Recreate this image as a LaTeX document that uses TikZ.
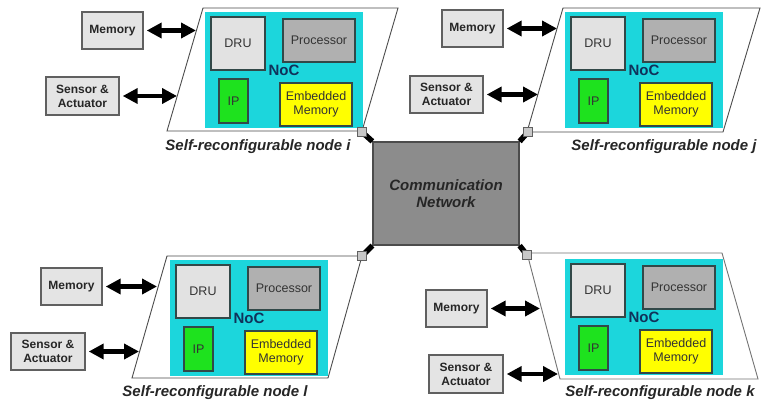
\documentclass[tikz,border=0pt]{standalone}
\usepackage{fontspec}
\setmainfont{Liberation Sans}
\usetikzlibrary{arrows.meta}
\definecolor{cyanbg}{RGB}{28,214,220}
\definecolor{drufill}{RGB}{226,226,226}
\definecolor{procfill}{RGB}{176,176,176}
\definecolor{ipfill}{RGB}{30,226,30}
\definecolor{embfill}{RGB}{255,255,0}
\definecolor{boxline}{RGB}{50,72,72}
\definecolor{extfill}{RGB}{228,228,228}
\definecolor{extline}{RGB}{96,96,96}
\definecolor{noccol}{RGB}{16,50,90}
\definecolor{netfill}{RGB}{140,140,140}
\definecolor{sqfill}{RGB}{200,200,200}
\begin{document}
\begin{tikzpicture}[x=1pt,y=-1pt,
 inbox/.style={draw=boxline, line width=1.2pt, inner sep=0pt, align=center,
   font=\fontsize{12.5}{14}\selectfont, text=black!80},
 ext/.style={draw=extline, fill=extfill, line width=1.4pt, inner sep=0pt, align=center,
   font=\fontsize{12}{14}\selectfont\bfseries, text=black!85},
 para/.style={draw=black!70, line width=0.9pt, fill=white},
 caption/.style={font=\fontsize{15}{17}\selectfont\bfseries\itshape, text=black!85},
 biarrow/.style={line width=4.5pt, {Triangle[length=15pt,width=15pt]}-{Triangle[length=15pt,width=15pt]}},
 link/.style={line width=5.5pt, black},
 port/.style={draw=extline, fill=sqfill, line width=0.8pt, minimum size=9pt, inner sep=0pt},
 chip/.pic={
   \fill[cyanbg] (0,0) rectangle (158,116);
   \node[inbox, fill=drufill, minimum width=54pt, minimum height=53pt] (-dru) at (33,31.5) {DRU};
   \node[inbox, fill=procfill, minimum width=72pt, minimum height=43pt] (-proc) at (114,28.5) {Processor};
   \node[inbox, fill=ipfill, minimum width=29pt, minimum height=44pt] (-ip) at (28.5,89) {IP};
   \node[inbox, fill=embfill, minimum width=72pt, minimum height=43pt] (-emb) at (111,92.5) {Embedded\\Memory};
   \node[font=\fontsize{15}{16}\selectfont\bfseries, text=noccol, inner sep=0pt] (-noc) at (79,58) {NoC};
 }
]
\useasboundingbox (0,0) rectangle (761,405);
\fill[white] (0,0) rectangle (761,405);

% ---------- parallelograms ----------
\draw[para] (203,8) -- (398,8) -- (362,131) -- (167,131) -- cycle;
\draw[para] (563,8) -- (760,8) -- (723,132) -- (527,132) -- cycle;
\draw[para] (167,256) -- (362,256) -- (328,378) -- (132,378) -- cycle;
\draw[para, draw=black!55] (527,253) -- (722,253) -- (758,379) -- (560,379) -- cycle;

% ---------- node contents ----------
\pic (i) at (205,12) {chip};
\pic (j) at (565,12) {chip};
\pic (l) at (170,260) {chip};
\pic (k) at (565,259) {chip};

% ---------- external boxes ----------
\node[ext, minimum width=61pt, minimum height=37pt] (i-mem) at (112.5,30.5) {Memory};
\node[ext, minimum width=73pt, minimum height=38pt] (i-sen) at (82.5,96) {Sensor \&\\Actuator};
\node[ext, minimum width=61pt, minimum height=37pt] (j-mem) at (472.5,28.5) {Memory};
\node[ext, minimum width=73pt, minimum height=37pt] (j-sen) at (446.5,94.5) {Sensor \&\\Actuator};
\node[ext, minimum width=61pt, minimum height=37pt] (l-mem) at (71.5,286.5) {Memory};
\node[ext, minimum width=74pt, minimum height=37pt] (l-sen) at (48,351.5) {Sensor \&\\Actuator};
\node[ext, minimum width=61pt, minimum height=37pt] (k-mem) at (456.5,308.5) {Memory};
\node[ext, minimum width=74pt, minimum height=38pt] (k-sen) at (466,374) {Sensor \&\\Actuator};

% arrow tips on the parallelogram edges
\coordinate (i-memtip) at (196,0);
\coordinate (i-sentip) at (177,0);
\coordinate (j-memtip) at (557,0);
\coordinate (j-sentip) at (538,0);
\coordinate (l-memtip) at (157,0);
\coordinate (l-sentip) at (139,0);
\coordinate (k-memtip) at (540,0);
\coordinate (k-sentip) at (558,0);

\foreach \n in {i,j,l,k}{
  \draw[biarrow, shorten <=3pt] (\n-mem.east) -- (\n-mem.east -| \n-memtip);
  \draw[biarrow, shorten <=3pt] (\n-sen.east) -- (\n-sen.east -| \n-sentip);
}

% ---------- communication network ----------
\node[draw=black!70, fill=netfill, line width=1.2pt, minimum width=146pt, minimum height=103pt,
  align=center, font=\fontsize{15}{17}\selectfont\bfseries\itshape, text=black!85] (net) at (446,193.5)
  {Communication\\Network};

\coordinate (i-pc) at (362,132);
\coordinate (j-pc) at (528,132);
\coordinate (l-pc) at (362,256);
\coordinate (k-pc) at (527,255);
\draw[link] (net.north west) -- (i-pc);
\draw[link] (net.north east) -- (j-pc);
\draw[link] (net.south west) -- (l-pc);
\draw[link] (net.south east) -- (k-pc);
\node[port] (i-port) at (i-pc) {};
\node[port] (j-port) at (j-pc) {};
\node[port] (l-port) at (l-pc) {};
\node[port] (k-port) at (k-pc) {};

% ---------- captions ----------
\node[caption] (i-cap) at (258,147) {Self-reconfigurable node i};
\node[caption] (j-cap) at (664,147) {Self-reconfigurable node j};
\node[caption] (l-cap) at (215,393) {Self-reconfigurable node l};
\node[caption] (k-cap) at (660,393) {Self-reconfigurable node k};
\end{tikzpicture}
\end{document}
